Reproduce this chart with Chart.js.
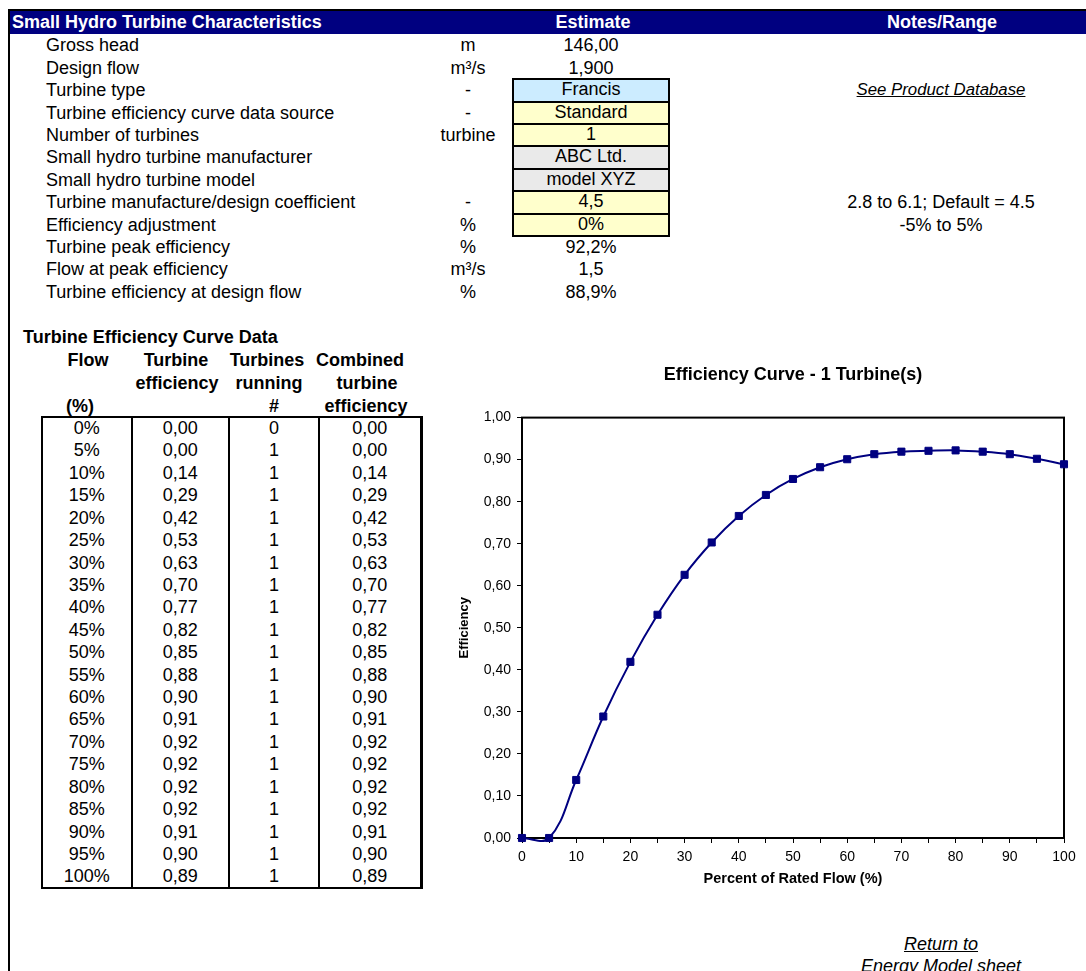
<!DOCTYPE html>
<html>
<head>
<meta charset="utf-8">
<title>Small Hydro Turbine Characteristics</title>
<script src="https://cdn.jsdelivr.net/npm/chart.js@4.4.1/dist/chart.umd.min.js"></script>
<style>
  html, body { margin: 0; padding: 0; background: #fff; overflow: hidden; }
  body { width: 1086px; height: 971px; position: relative;
         font-family: "Liberation Sans", Arial, sans-serif; font-size: 18px; color: #000; }
  .t { position: absolute; white-space: nowrap; height: 22.42px; line-height: 22.42px; }
  .c { transform: translateX(-50%); }
  .b { font-weight: bold; }
  .w { color: #fff; }
  .link { font-style: italic; text-decoration: underline; }
  .small { font-size: 16.8px; }
  .rule { position: absolute; background: #000; }
  .cell { position: absolute; box-sizing: border-box; border: 2px solid #000;
          text-align: center; line-height: 18.4px; }
  #chartBox { position: absolute; left: 440px; top: 340px; width: 646px; height: 560px; }
</style>
</head>
<body>
<div id="sheet"></div>
<div id="chartBox"><canvas id="effChart" width="646" height="560"></canvas></div>
<script>
// ---- Turbine characteristics block ----
const paramLabels = [
  "Gross head", "Design flow", "Turbine type", "Turbine efficiency curve data source",
  "Number of turbines", "Small hydro turbine manufacturer", "Small hydro turbine model",
  "Turbine manufacture/design coefficient", "Efficiency adjustment",
  "Turbine peak efficiency", "Flow at peak efficiency", "Turbine efficiency at design flow"
];
const paramUnits = ["m", "m³/s", "-", "-", "turbine", "", "", "-", "%", "%", "m³/s", "%"];
const paramValues = ["146,00", "1,900", "Francis", "Standard", "1", "ABC Ltd.", "model XYZ",
                     "4,5", "0%", "92,2%", "1,5", "88,9%"];
const paramNotes = ["", "", "See Product Database", "", "", "", "",
                    "2.8 to 6.1; Default = 4.5", "-5% to 5%", "", "", ""];
// input cell shading (null = plain result cell)
const inputFill = [null, null, "#CCECFF", "#FFFFCC", "#FFFFCC", "#EAEAEA", "#EAEAEA",
                   "#FFFFCC", "#FFFFCC", null, null, null];

// ---- Efficiency curve table ----
const flowPct = [0, 5, 10, 15, 20, 25, 30, 35, 40, 45, 50, 55, 60, 65, 70, 75, 80, 85, 90, 95, 100];
const turbineEff = [0, 0, 0.138, 0.289, 0.419, 0.531, 0.626, 0.703, 0.766, 0.816, 0.854,
                    0.882, 0.901, 0.913, 0.919, 0.921, 0.922, 0.919, 0.913, 0.902, 0.889];
const turbinesRunning = [0, 1, 1, 1, 1, 1, 1, 1, 1, 1, 1, 1, 1, 1, 1, 1, 1, 1, 1, 1, 1];
const combinedEff = [0, 0, 0.138, 0.289, 0.419, 0.531, 0.626, 0.703, 0.766, 0.816, 0.854,
                     0.882, 0.901, 0.913, 0.919, 0.921, 0.922, 0.919, 0.913, 0.902, 0.889];

const chartTitle = "Efficiency Curve - 1 Turbine(s)";
const xAxisTitle = "Percent of Rated Flow (%)";
const yAxisTitle = "Efficiency";

// ---- sheet drawing helpers ----
const sheet = document.getElementById("sheet");
const RH = 22.42;
function text(str, x, cy, cls) {
  const d = document.createElement("div");
  d.className = "t " + (cls || "");
  d.textContent = str;
  d.style.left = x + "px";
  d.style.top = (cy - RH / 2) + "px";
  sheet.appendChild(d);
  return d;
}
function rule(x, y, w, h) {
  const d = document.createElement("div");
  d.className = "rule";
  Object.assign(d.style, { left: x + "px", top: y + "px", width: w + "px", height: h + "px" });
  sheet.appendChild(d);
}
const dec2 = v => v.toFixed(2).replace(".", ",");

// frame: left edge and title bar
rule(8, 9, 2, 962);
rule(8, 9, 1078, 2);
const bar = document.createElement("div");
Object.assign(bar.style, { position: "absolute", left: "10px", top: "11px", width: "1076px",
                           height: "23.3px", background: "#000080" });
sheet.appendChild(bar);
text("Small Hydro Turbine Characteristics", 12, 22.6, "b w");
text("Estimate", 593, 22.6, "b w c");
text("Notes/Range", 942, 22.6, "b w c");

// parameter rows
paramLabels.forEach((lab, i) => {
  const cy = 45.5 + i * RH;
  text(lab, 46, cy);
  if (paramUnits[i]) text(paramUnits[i], 468, cy, "c");
  if (inputFill[i]) {
    const top = 34.3 + i * RH;
    const d = document.createElement("div");
    d.className = "cell";
    d.textContent = paramValues[i];
    Object.assign(d.style, { left: "512px", top: (top - 1) + "px", width: "158px",
                             height: (RH + 2) + "px", background: inputFill[i] });
    sheet.appendChild(d);
  } else {
    text(paramValues[i], 591, cy, "c");
  }
  if (paramNotes[i]) text(paramNotes[i], 941, cy, "c" + (i === 2 ? " link small" : ""));
});

// curve data table heading
text("Turbine Efficiency Curve Data", 23, 337, "b");
const headRows = [360, 383, 406];
[["Flow", 88, 0], ["(%)", 80, 2],
 ["Turbine", 176, 0], ["efficiency", 177, 1],
 ["Turbines", 267, 0], ["running", 269, 1], ["#", 274, 2],
 ["Combined", 360, 0], ["turbine", 367, 1], ["efficiency", 366, 2]]
  .forEach(([s, x, r]) => text(s, x, headRows[r], "b c"));

// table body
const tTop = 417, tBot = tTop + flowPct.length * RH;
const colEdges = [41.7, 131.7, 229, 319, 420.7];
colEdges.forEach((x, k) => rule(x - 1, tTop - 1, k === 4 ? 3 : 2, tBot - tTop + 2));
rule(colEdges[0] - 1, tTop - 1, colEdges[4] - colEdges[0] + 3, 2);
rule(colEdges[0] - 1, tBot - 1, colEdges[4] - colEdges[0] + 3, 2);
const colCenters = colEdges.slice(0, 4).map((x, k) => (x + colEdges[k + 1]) / 2);
flowPct.forEach((f, i) => {
  const cy = tTop + (i + 0.5) * RH;
  text(f + "%", colCenters[0], cy, "c");
  text(dec2(turbineEff[i]), colCenters[1], cy, "c");
  text(String(turbinesRunning[i]), colCenters[2], cy, "c");
  text(dec2(combinedEff[i]), colCenters[3], cy, "c");
});

// link back to the model sheet
text("Return to", 941, 944, "c link");
text("Energy Model sheet", 941, 966, "c link");

// ---- efficiency curve chart ----
const FONT = "'Liberation Sans', Arial, sans-serif";
const plotFrame = {
  id: "plotFrame",
  beforeDatasetsDraw(chart) {
    const a = chart.chartArea, ctx = chart.ctx;
    ctx.save();
    ctx.strokeStyle = "#000";
    ctx.lineWidth = 2;
    ctx.strokeRect(a.left, a.top, a.right - a.left, a.bottom - a.top);
    ctx.restore();
  }
};

new Chart(document.getElementById("effChart"), {
  type: "line",
  data: {
    datasets: [{
      label: "Combined turbine efficiency",
      data: flowPct.map((x, i) => ({ x: x, y: combinedEff[i] })),
      borderColor: "#000080",
      backgroundColor: "#000080",
      borderWidth: 2,
      tension: 0.4,
      pointStyle: "rect",
      pointRadius: 5,
      pointBorderWidth: 1,
      pointBorderColor: "#000080",
      pointBackgroundColor: "#000080",
      clip: 10
    }]
  },
  options: {
    responsive: false,
    animation: false,
    events: [],
    layout: { padding: { left: 0, right: 22, top: 0, bottom: 0 } },
    elements: { line: { capBezierPoints: false } },
    plugins: {
      legend: { display: false },
      tooltip: { enabled: false },
      title: {
        display: true,
        text: chartTitle,
        fullSize: false,
        color: "#000",
        font: { family: FONT, size: 18, weight: "bold" },
        padding: { top: 24, bottom: 32 }
      }
    },
    scales: {
      x: {
        type: "linear",
        min: 0, max: 100,
        afterFit: s => { s.height = 62; },
        border: { display: true, color: "#000", width: 2 },
        grid: { display: true, drawOnChartArea: false, drawTicks: true,
                tickLength: 5, color: "#000", lineWidth: 1 },
        ticks: {
          stepSize: 5, autoSkip: false, maxRotation: 0, padding: 6,
          color: "#000", font: { family: FONT, size: 14 },
          callback: v => (v % 10 === 0 ? String(v) : "")
        },
        title: { display: true, text: xAxisTitle, color: "#000",
                 font: { family: FONT, size: 14.5, weight: "bold" },
                 padding: { top: 0, bottom: 12 } }
      },
      y: {
        min: 0, max: 1,
        afterFit: s => { s.width = 82; },
        border: { display: true, color: "#000", width: 2 },
        grid: { display: true, drawOnChartArea: false, drawTicks: true,
                tickLength: 5, color: "#000", lineWidth: 1 },
        ticks: {
          stepSize: 0.1, padding: 6,
          color: "#000", font: { family: FONT, size: 14 },
          callback: v => dec2(v)
        },
        title: { display: true, text: yAxisTitle, color: "#000",
                 font: { family: FONT, size: 13, weight: "bold" },
                 padding: { top: 17, bottom: 0 } }
      }
    }
  },
  plugins: [plotFrame]
});
</script>
</body>
</html>
